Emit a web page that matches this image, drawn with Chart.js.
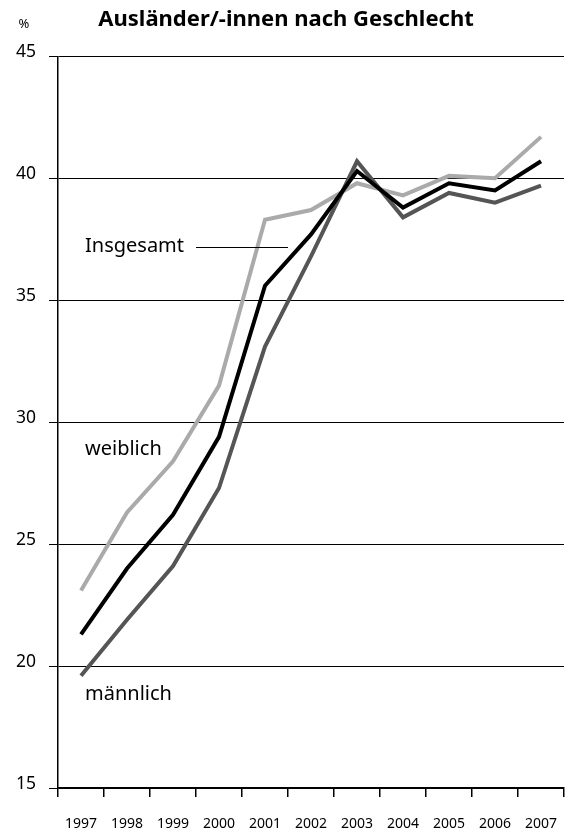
<!DOCTYPE html>
<html>
<head>
<meta charset="utf-8">
<script src="https://cdn.jsdelivr.net/npm/chart.js@4"></script>
<style>
  html, body { margin: 0; padding: 0; background: #fff; }
  #wrap { width: 565px; height: 836px; }
</style>
</head>
<body>
<div id="wrap"><canvas id="chart"></canvas></div>
<script>
var years = ['1997', '1998', '1999', '2000', '2001', '2002', '2003', '2004', '2005', '2006', '2007'];
var insgesamt = [21.3, 24.0, 26.2, 29.4, 35.6, 37.7, 40.3, 38.8, 39.8, 39.5, 40.7];
var maennlich = [19.6, 21.9, 24.1, 27.3, 33.1, 36.8, 40.7, 38.4, 39.4, 39.0, 39.7];
var weiblich = [23.1, 26.3, 28.4, 31.5, 38.3, 38.7, 39.8, 39.3, 40.1, 40.0, 41.7];

var FONT = '"Noto Sans", "Open Sans", sans-serif';

// text labels drawn next to the lines, placed via the scales
var lineLabels = [
    { text: 'Insgesamt', value: 37.2 },
    { text: 'weiblich', value: 28.9 },
    { text: 'männlich', value: 18.85 }
];

var labelPlugin = {
    id: 'lineLabels',
    afterDatasetsDraw: function (chart) {
        var c = chart.ctx;
        var x = chart.scales.x;
        var y = chart.scales.y;
        var left = x.getPixelForValue(0) + 4;
        c.save();
        c.fillStyle = '#000';
        c.font = '20px ' + FONT;
        c.textBaseline = 'middle';
        c.textAlign = 'left';
        lineLabels.forEach(function (l) {
            c.fillText(l.text, left, y.getPixelForValue(l.value));
        });
        // leader line for Insgesamt
        var half = (x.getPixelForValue(1) - x.getPixelForValue(0)) / 2;
        var ly = Math.round(y.getPixelForValue(37.2)) + 0.5;
        c.strokeStyle = '#000';
        c.lineWidth = 1;
        c.beginPath();
        c.moveTo(x.getPixelForValue(3) - half, ly);
        c.lineTo(x.getPixelForValue(5) - half, ly);
        c.stroke();
        // unit
        c.font = '13px ' + FONT;
        c.textAlign = 'center';
        c.fillText('%', 24, 24);
        c.restore();
    }
};

new Chart(document.getElementById('chart'), {
    type: 'line',
    data: {
        labels: years,
        datasets: [
            { label: 'Insgesamt', data: insgesamt, borderColor: '#000000', borderWidth: 4 },
            { label: 'männlich', data: maennlich, borderColor: '#555555', borderWidth: 4 },
            { label: 'weiblich', data: weiblich, borderColor: '#aaaaaa', borderWidth: 4 }
        ]
    },
    options: {
        responsive: true,
        maintainAspectRatio: false,
        animation: false,
        devicePixelRatio: 1,
        elements: {
            point: { radius: 0 },
            line: { tension: 0, borderJoinStyle: 'miter', borderCapStyle: 'butt' }
        },
        layout: { padding: { left: 8, right: 1, top: 0, bottom: 0 } },
        plugins: {
            legend: { display: false },
            tooltip: { enabled: false },
            title: {
                display: true,
                text: 'Ausländer/-innen nach Geschlecht',
                color: '#000',
                font: { family: FONT, size: 22, weight: 'bold' },
                padding: { top: 7, bottom: 23 }
            }
        },
        scales: {
            x: {
                offset: true,
                grid: { display: true, drawOnChartArea: false, drawTicks: true, tickLength: 9, offset: true, color: '#000', lineWidth: 1.5 },
                border: { color: '#000', width: 1.5 },
                ticks: { color: '#000', font: { family: FONT, size: 14 }, padding: 19, maxRotation: 0, autoSkip: false },
                afterFit: function (s) { s.height = 48; s.paddingLeft = 0; s.paddingRight = 0; }
            },
            y: {
                min: 15,
                max: 45,
                ticks: { stepSize: 5, color: '#000', font: { family: FONT, size: 17.5 }, padding: 13, labelOffset: -4 },
                grid: { color: '#000', lineWidth: 1, tickLength: 9 },
                border: { color: '#000', width: 1.5 },
                afterFit: function (s) { s.width = 50; }
            }
        }
    },
    plugins: [labelPlugin]
});
</script>
</body>
</html>
